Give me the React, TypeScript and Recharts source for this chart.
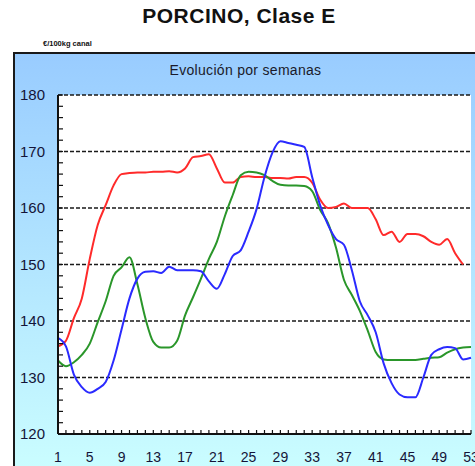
import React from "react";
import { LineChart, Line, XAxis, YAxis, CartesianGrid, ReferenceLine } from "recharts";

const weeks = [
  1, 2, 3, 4, 5, 6, 7, 8, 9, 10, 11, 12, 13, 14, 15, 16, 17, 18, 19, 20, 21, 22, 23, 24, 25, 26, 27,
  28, 29, 30, 31, 32, 33, 34, 35, 36, 37, 38, 39, 40, 41, 42, 43, 44, 45, 46, 47, 48, 49, 50, 51, 52, 53,
];
const weekLabels = [1, 5, 9, 13, 17, 21, 25, 29, 33, 37, 41, 45, 49, 53];

const redSeries = [
  135.5, 136.5, 140.5, 144, 151, 157, 160.5, 164, 166, 166.2, 166.3, 166.3, 166.4, 166.4, 166.5, 166.3,
  167, 169, 169.2, 169.5, 167, 164.5, 164.5, 165.5, 165.6, 165.5, 165.5, 165.3, 165.3, 165.2, 165.5,
  165.5, 164.5, 161.5, 160, 160.2, 160.8, 160, 160, 160, 158, 155.2, 155.8, 154, 155.4, 155.4, 155, 154,
  153.5, 154.5, 152, 150,
];
const blueSeries = [
  137, 135.5, 130.5, 128.3, 127.3, 128, 129.2, 133, 138.5, 144, 147.5, 148.7, 148.8, 148.5, 149.6, 149,
  149, 149, 148.8, 147, 145.7, 148.3, 151.5, 152.5, 155.8, 159.8, 165.5, 169.8, 171.8, 171.5, 171.2,
  170.8, 165.5, 160.5, 157, 154.5, 153.5, 149, 143.5, 141, 138, 132.5, 129, 127, 126.5, 126.5, 130, 134,
  135, 135.4, 135.2, 133.2, 133.5,
];
const greenSeries = [
  133, 132, 132.7, 134, 136, 139.8, 143.5, 148, 149.5, 151.3, 146.5, 140.5, 136.3, 135.3, 135.3, 136.5,
  141, 144.2, 147.5, 151, 154, 158.5, 162.3, 165.8, 166.4, 166.3, 165.8, 164.8, 164.1, 164, 164, 163.9,
  163, 159.7, 157.3, 153, 147.3, 144.6, 141.8, 138.3, 134.5, 133.2, 133.1, 133.1, 133.1, 133.1, 133.3,
  133.5, 133.6, 134.4, 135, 135.3, 135.4,
];
const yTicks = [
  120, 122, 124, 126, 128, 130, 132, 134, 136, 138, 140, 142, 144, 146, 148, 150, 152, 154, 156, 158,
  160, 162, 164, 166, 168, 170, 172, 174, 176, 178, 180,
];
const yLabels = [120, 130, 140, 150, 160, 170, 180];
const gridValues = [130, 140, 150, 160, 170, 180];

const data = weeks.map((w, i) => ({
  week: w,
  red: redSeries[i],
  blue: blueSeries[i],
  green: greenSeries[i],
}));

const labelColor = "#141438";

const XTick = (props: any) => {
  const { x, y, payload } = props;
  const axisY = y - 18;
  return (
    <g>
      <line x1={x} x2={x} y1={axisY} y2={axisY - 4} stroke="#111" strokeWidth={1.2} />
      {weekLabels.includes(payload.value) && (
        <text x={x} y={y} dy="0.71em" textAnchor="middle" fontSize={14} fill={labelColor}
          fontFamily="Liberation Sans, Arial, sans-serif">
          {payload.value}
        </text>
      )}
    </g>
  );
};

const YTick = (props: any) => {
  const { x, y, payload } = props;
  const axisX = x + 13;
  return (
    <g>
      <line x1={axisX} x2={axisX + 5} y1={y} y2={y} stroke="#111" strokeWidth={1.2} />
      {yLabels.includes(payload.value) && (
        <text x={x} y={y} dy="0.355em" textAnchor="end" fontSize={15} fill={labelColor}
          fontFamily="Liberation Sans, Arial, sans-serif">
          {payload.value}
        </text>
      )}
    </g>
  );
};

export default function App() {
  return (
    <div style={{ position: "absolute", left: 0, top: 0, width: 475, height: 466, overflow: "hidden", background: "#fff", fontFamily: "Liberation Sans, Arial, sans-serif" }}>
      <div style={{ position: "absolute", left: 0, width: 478, top: 4, textAlign: "center", fontSize: 21, fontWeight: "bold", letterSpacing: 0.5, color: "#111" }}>
        PORCINO, Clase E
      </div>
      <div style={{ position: "absolute", left: 43, top: 39, fontSize: 7.5, fontWeight: "bold", color: "#111" }}>
        €/100kg canal
      </div>
      <div style={{ position: "absolute", left: 13, top: 52, width: 480, height: 430, border: "2px solid #1a1a1a", background: "linear-gradient(#99ccff, #ccffff)" }} />
      <div style={{ position: "absolute", left: 13, width: 465, top: 62, textAlign: "center", fontSize: 14, letterSpacing: 0.3, color: "#1a1a2a" }}>
        Evolución por semanas
      </div>
      <div style={{ position: "absolute", left: 0, top: 0 }}>
        <LineChart width={475} height={466} data={data} margin={{ top: 95, right: 4, bottom: 0, left: 18 }}>
          <CartesianGrid horizontal={false} vertical={false} fill="#ffffff" />
          {gridValues.map((v) => (
            <ReferenceLine key={v} y={v} stroke="#1a1a1a" strokeWidth={1.5} strokeDasharray="4 2" />
          ))}
          <XAxis dataKey="week" type="number" domain={[1, 53]} ticks={weeks} interval={0} height={32}
            tickSize={0} tickMargin={18} tickLine={false} tick={<XTick />}
            axisLine={{ stroke: "#111", strokeWidth: 2 }} />
          <YAxis type="number" domain={[120, 180]} ticks={yTicks} interval={0} width={40}
            tickSize={0} tickMargin={13} tickLine={false} tick={<YTick />}
            axisLine={{ stroke: "#111", strokeWidth: 2 }} />
          <Line dataKey="red" type="monotone" stroke="#ff2a2a" strokeWidth={2} dot={false} isAnimationActive={false} />
          <Line dataKey="green" type="monotone" stroke="#2a962a" strokeWidth={2} dot={false} isAnimationActive={false} />
          <Line dataKey="blue" type="monotone" stroke="#2a2aff" strokeWidth={2} dot={false} isAnimationActive={false} />
        </LineChart>
      </div>
    </div>
  );
}
